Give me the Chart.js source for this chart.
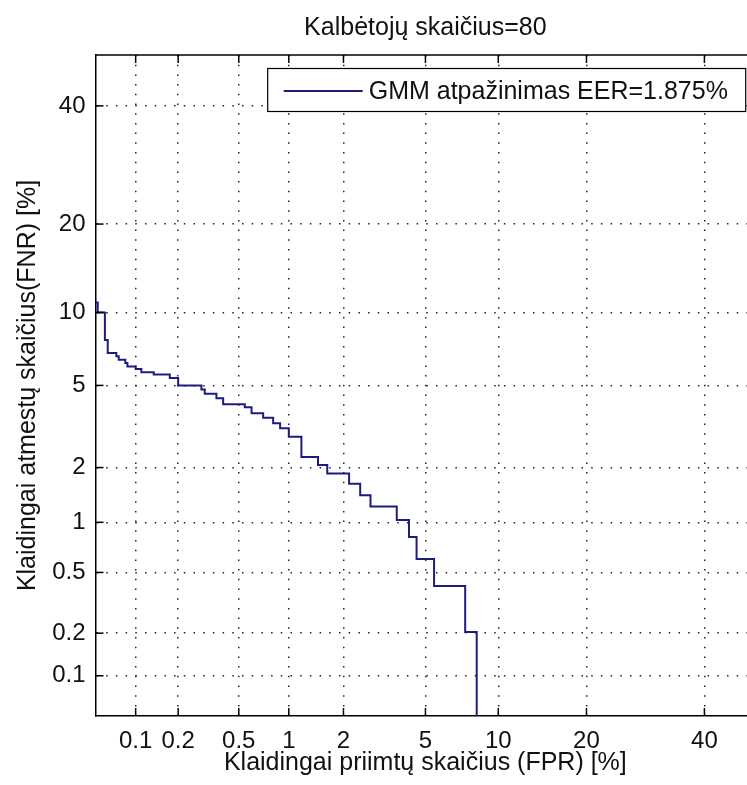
<!DOCTYPE html>
<html><head><meta charset="utf-8">
<script src="https://cdn.jsdelivr.net/npm/chart.js@4.4.0/dist/chart.umd.min.js"></script>
<style>
html,body{margin:0;padding:0;background:#fff;overflow:hidden;width:747px;height:785px}
#wrap{position:absolute;left:0;top:0;width:800px;height:785px}
</style>
</head><body><div id="wrap"><canvas id="c" width="800" height="785"></canvas></div>
<script>
// ---- data (percent) ----
const chartTitle = 'Kalbėtojų skaičius=80';
const xAxisTitle = 'Klaidingai priimtų skaičius (FPR) [%]';
const yAxisTitle = 'Klaidingai atmestų skaičius(FNR) [%]';
const seriesName = 'GMM atpažinimas EER=1.875%';
const tickValues = [0.1, 0.2, 0.5, 1, 2, 5, 10, 20, 40];
const tickLabels = ['0.1', '0.2', '0.5', '1', '2', '5', '10', '20', '40'];
const axisRange = [0.05, 50];
// DET staircase corners: FPR (%) where each FNR level starts
const fprPercent = [0.05, 0.052, 0.059, 0.062, 0.072, 0.075, 0.084, 0.087, 0.10, 0.11,
  0.135, 0.175, 0.20, 0.287, 0.302, 0.36, 0.398, 0.545, 0.60, 0.706,
  0.81, 0.89, 1.0, 1.18, 1.46, 1.64, 2.14, 2.44, 2.75, 3.69,
  4.21, 4.56, 5.46, 7.4, 8.24];
const fnrPercent = [10.9, 10.0, 7.8, 6.9, 6.68, 6.47, 6.26, 6.05, 5.9, 5.72,
  5.58, 5.39, 5.0, 4.79, 4.59, 4.38, 4.11, 3.98, 3.73, 3.55,
  3.34, 3.16, 2.87, 2.27, 2.06, 1.86, 1.64, 1.42, 1.23, 1.03,
  0.82, 0.605, 0.41, 0.204, 0.05];

// inverse normal CDF (Acklam)
function probit(p) {
  const a=[-3.969683028665376e+01,2.209460984245205e+02,-2.759285104469687e+02,1.383577518672690e+02,-3.066479806614716e+01,2.506628277459239e+00];
  const b=[-5.447609879822406e+01,1.615858368580409e+02,-1.556989798598866e+02,6.680131188771972e+01,-1.328068155288572e+01];
  const c=[-7.784894002430293e-03,-3.223964580411365e-01,-2.400758277161838e+00,-2.549732539343734e+00,4.374664141464968e+00,2.938163982698783e+00];
  const d=[7.784695709041462e-03,3.224671290700398e-01,2.445134137142996e+00,3.754408661907416e+00];
  const pl=0.02425, ph=1-pl; let q, r;
  if (p < pl) { q=Math.sqrt(-2*Math.log(p)); return (((((c[0]*q+c[1])*q+c[2])*q+c[3])*q+c[4])*q+c[5])/((((d[0]*q+d[1])*q+d[2])*q+d[3])*q+1); }
  if (p <= ph) { q=p-0.5; r=q*q; return (((((a[0]*r+a[1])*r+a[2])*r+a[3])*r+a[4])*r+a[5])*q/(((((b[0]*r+b[1])*r+b[2])*r+b[3])*r+b[4])*r+1); }
  q=Math.sqrt(-2*Math.log(1-p)); return -(((((c[0]*q+c[1])*q+c[2])*q+c[3])*q+c[4])*q+c[5])/((((d[0]*q+d[1])*q+d[2])*q+d[3])*q+1);
}
const pct = v => probit(v / 100);

const FONT = "'Liberation Sans', Arial, Helvetica, sans-serif";
const LINE_COLOR = '#1c1c80';
Chart.defaults.font.family = FONT;
Chart.defaults.color = '#111';

const points = fprPercent.map((v, i) => ({ x: pct(v), y: pct(fnrPercent[i]) }));

function probitTicks(scale) {
  scale.ticks = tickValues.map(v => ({ value: pct(v) }));
}

const gridOpts = { display: true, color: '#222', lineWidth: 1.5, drawTicks: false, tickLength: 0, borderDash: [1.5, 8.2] };
const borderOpts = { display: true, color: '#000', width: 1.5, dash: [1.5, 8.2] };

const decor = {
  id: 'matlabDecor',
  afterDraw(chart) {
    const { ctx, chartArea: a, scales: { x, y } } = chart;
    ctx.save();
    ctx.strokeStyle = '#000'; ctx.lineWidth = 1.5; ctx.setLineDash([]);
    const line = (x1, y1, x2, y2) => { ctx.beginPath(); ctx.moveTo(x1, y1); ctx.lineTo(x2, y2); ctx.stroke(); };
    line(a.left, a.top, a.right, a.top);
    line(a.right, a.top, a.right, a.bottom);
    const tl = 8;
    x.ticks.forEach(t => { const px = x.getPixelForValue(t.value); line(px, a.bottom, px, a.bottom - tl); line(px, a.top, px, a.top + tl); });
    y.ticks.forEach(t => { const py = y.getPixelForValue(t.value); line(a.left, py, a.left + tl, py); line(a.right, py, a.right - tl, py); });
    // legend box (NorthEast)
    const bx2 = a.right - 9.5, by1 = a.top + 13.5, bw = 478, bh = 43;
    const bx1 = bx2 - bw;
    ctx.fillStyle = '#fff'; ctx.fillRect(bx1, by1, bw, bh);
    ctx.lineWidth = 1.2; ctx.strokeRect(bx1, by1, bw, bh);
    const ly = by1 + 22.5;
    ctx.strokeStyle = chart.data.datasets[0].borderColor; ctx.lineWidth = 2;
    line(bx1 + 16, ly, bx1 + 95, ly);
    ctx.fillStyle = '#111'; ctx.font = '25px ' + FONT; ctx.textBaseline = 'middle'; ctx.textAlign = 'left';
    ctx.fillText(chart.data.datasets[0].label, bx1 + 101, ly + 1);
    ctx.restore();
  }
};

new Chart(document.getElementById('c'), {
  type: 'scatter',
  data: { datasets: [{
    label: seriesName, data: points, showLine: true, stepped: true,
    borderColor: LINE_COLOR, backgroundColor: LINE_COLOR, borderWidth: 2, pointRadius: 0, fill: false
  }] },
  options: {
    responsive: false, animation: false, devicePixelRatio: 1,
    layout: { padding: { left: 0, top: 0, right: 44.8, bottom: 0 } },
    plugins: {
      legend: { display: false }, tooltip: { enabled: false },
      title: { display: true, text: chartTitle, fullSize: false, color: '#111',
        font: { size: 25, weight: 'normal', lineHeight: 1.2 }, padding: { top: 13, bottom: 12 } }
    },
    scales: {
      x: {
        type: 'linear', position: 'bottom', min: pct(axisRange[0]), max: pct(axisRange[1]),
        afterBuildTicks: probitTicks, afterFit: s => { s.height = 69; },
        grid: gridOpts, border: borderOpts,
        ticks: { autoSkip: false, maxRotation: 0, padding: 10.5, color: '#111', font: { size: 24 },
          callback: (v, i) => tickLabels[i] },
        title: { display: true, text: xAxisTitle, color: '#111', font: { size: 25, lineHeight: 1.2 }, padding: { top: 0, bottom: 7 } }
      },
      y: {
        type: 'linear', position: 'left', min: pct(axisRange[0]), max: pct(axisRange[1]),
        afterBuildTicks: probitTicks, afterFit: s => { s.width = 95.5; },
        grid: gridOpts, border: borderOpts,
        ticks: { autoSkip: false, padding: 10, color: '#111', font: { size: 24 },
          callback: (v, i) => tickLabels[i] },
        title: { display: true, text: yAxisTitle, color: '#111', font: { size: 25, lineHeight: 1.2 }, padding: { top: 13, bottom: 0 } }
      }
    }
  },
  plugins: [decor]
});
</script>
</body></html>
